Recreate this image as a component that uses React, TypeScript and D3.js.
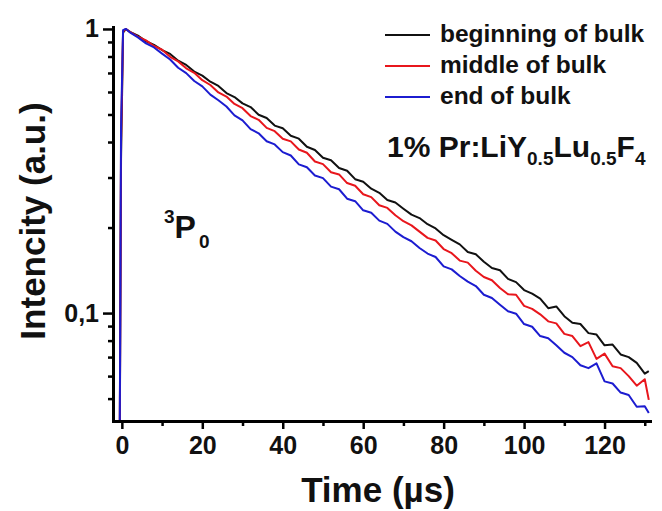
import React, { useEffect, useRef } from 'react';
import * as d3 from 'd3';

// time axis (µs) shared by the three decay curves
const times = [
  -0.6, -0.2, 0.3, 1,
  2, 4, 6, 8, 10, 12, 14, 16, 18, 20, 22, 24, 26, 28, 30, 32, 34, 36, 38, 40,
  42, 44, 46, 48, 50, 52, 54, 56, 58, 60, 62, 64, 66, 68, 70, 72, 74, 76, 78, 80,
  82, 84, 86, 88, 90, 92, 94, 96, 98, 100, 102, 104, 106, 108, 110, 112, 114, 116,
  118, 120, 122, 124, 126, 128, 130, 131,
];

const beginningOfBulk = [
  0.02, 0.35, 0.97, 1.0,
  0.977, 0.947, 0.905, 0.879, 0.843, 0.817, 0.773, 0.747, 0.708, 0.685, 0.652, 0.630,
  0.595, 0.576, 0.547, 0.531, 0.499, 0.486, 0.457, 0.447, 0.421, 0.411, 0.385, 0.375,
  0.352, 0.345, 0.324, 0.317, 0.296, 0.290, 0.274, 0.265, 0.250, 0.245, 0.233, 0.222,
  0.216, 0.2055, 0.1985, 0.188, 0.181, 0.1745, 0.164, 0.161, 0.1515, 0.144, 0.1415,
  0.132, 0.1285, 0.1205, 0.117, 0.1125, 0.104, 0.1055, 0.0975, 0.0925, 0.0915, 0.085,
  0.084, 0.077, 0.0775, 0.0715, 0.07, 0.0668, 0.0612, 0.0625,
];

const middleOfBulk = [
  0.02, 0.4, 0.98, 1.0,
  0.977, 0.94, 0.912, 0.871, 0.845, 0.798, 0.769, 0.727, 0.701, 0.66, 0.635, 0.598,
  0.578, 0.5446, 0.526, 0.4936, 0.4789, 0.4485, 0.4367, 0.4109, 0.4021, 0.3764, 0.3666,
  0.3417, 0.3343, 0.3131, 0.3076, 0.2868, 0.2806, 0.262, 0.256, 0.2395, 0.2345, 0.221,
  0.2105, 0.2035, 0.1935, 0.184, 0.18, 0.168, 0.1625, 0.153, 0.1505, 0.141, 0.134,
  0.1305, 0.1225, 0.1165, 0.116, 0.106, 0.1035, 0.099, 0.0935, 0.092, 0.0845, 0.083,
  0.0765, 0.079, 0.069, 0.072, 0.065, 0.064, 0.06, 0.0555, 0.0585, 0.0495,
];

const endOfBulk = [
  0.02, 0.45, 0.99, 1.0,
  0.973, 0.934, 0.89, 0.861, 0.819, 0.781, 0.73, 0.699, 0.6557, 0.6278, 0.5873, 0.561,
  0.5333, 0.4967, 0.4766, 0.4439, 0.4294, 0.4025, 0.3923, 0.3686, 0.3585, 0.3337, 0.326,
  0.3049, 0.2986, 0.2786, 0.2728, 0.2527, 0.2476, 0.23, 0.2255, 0.2115, 0.206, 0.1935,
  0.185, 0.179, 0.1695, 0.162, 0.1575, 0.146, 0.1425, 0.135, 0.129, 0.1245, 0.116,
  0.113, 0.107, 0.1015, 0.0995, 0.0915, 0.0895, 0.083, 0.0815, 0.077, 0.0725, 0.07,
  0.0655, 0.064, 0.0665, 0.0575, 0.0565, 0.0525, 0.0515, 0.0468, 0.047, 0.0445,
];

const seriesNames = ['beginning of bulk', 'middle of bulk', 'end of bulk'];
const seriesColors = ['#111111', '#e8161c', '#1c1cd0'];

const xMajorTicks = [0, 20, 40, 60, 80, 100, 120];
const xMinorTicks = [10, 30, 50, 70, 90, 110, 130];
const yMajorTicks = [0.1, 1];
const yTickLabels = ['0,1', '1'];
const yMinorTicks = [0.05, 0.06, 0.07, 0.08, 0.09, 0.2, 0.3, 0.4, 0.5, 0.6, 0.7, 0.8, 0.9];

const FONT = '"Liberation Sans", Arial, sans-serif';

export default function App() {
  const svgRef = useRef<SVGSVGElement>(null);

  useEffect(() => {
    const svg = d3.select(svgRef.current);
    svg.selectAll('*').remove();

    const x = d3.scaleLinear().domain([-2.2, 131.3]).range([113, 650]);
    const y = d3.scaleLog().domain([0.0417, 1.016]).range([421, 27]);
    const [x0, x1] = x.range();
    const [yBottom, yTop] = y.range();

    svg.append('rect').attr('width', 662).attr('height', 511).attr('fill', '#fff');

    svg.append('defs').append('clipPath').attr('id', 'plot-clip')
      .append('rect')
      .attr('x', x0).attr('y', yTop)
      .attr('width', x1 - x0).attr('height', yBottom - yTop);

    // curves
    const all = [beginningOfBulk, middleOfBulk, endOfBulk];
    const line = d3.line<number>()
      .x((_, i) => x(times[i]))
      .y(d => y(d));
    const curves = svg.append('g').attr('clip-path', 'url(#plot-clip)');
    all.forEach((vals, k) => {
      curves.append('path')
        .datum(vals)
        .attr('fill', 'none')
        .attr('stroke', seriesColors[k])
        .attr('stroke-width', 2)
        .attr('stroke-linejoin', 'round')
        .attr('d', line);
    });

    // axes
    const styleAxis = (g: any, fontSize = 25) => {
      g.selectAll('.domain').attr('stroke', '#000').attr('stroke-width', 3).attr('stroke-linecap', 'square');
      g.selectAll('.tick line').attr('stroke', '#000').attr('stroke-width', 2.5);
      g.selectAll('.tick text')
        .attr('fill', '#111')
        .style('font-family', FONT)
        .style('font-weight', 'bold')
        .style('font-size', `${fontSize}px`);
    };

    const xMinor = svg.append('g').attr('transform', `translate(0,${yBottom})`)
      .call(d3.axisBottom(x).tickValues(xMinorTicks).tickSize(5).tickSizeOuter(0).tickFormat(() => ''));
    xMinor.select('.domain').remove();
    styleAxis(xMinor);

    const yMinor = svg.append('g').attr('transform', `translate(${x0},0)`)
      .call(d3.axisLeft(y).tickValues(yMinorTicks).tickSize(5).tickSizeOuter(0).tickFormat(() => ''));
    yMinor.select('.domain').remove();
    styleAxis(yMinor);

    const xAxis = svg.append('g').attr('transform', `translate(0,${yBottom})`)
      .call(d3.axisBottom(x).tickValues(xMajorTicks).tickSize(8).tickSizeOuter(0).tickPadding(7));
    styleAxis(xAxis);

    const yAxis = svg.append('g').attr('transform', `translate(${x0},0)`)
      .call(d3.axisLeft(y).tickValues(yMajorTicks).tickSize(10).tickSizeOuter(0).tickPadding(4)
        .tickFormat((d: any) => yTickLabels[yMajorTicks.indexOf(+d)]));
    styleAxis(yAxis);

    // axis titles
    svg.append('text')
      .attr('x', 378).attr('y', 502)
      .attr('text-anchor', 'middle')
      .style('font-family', FONT).style('font-weight', 'bold').style('font-size', '35px')
      .attr('fill', '#111')
      .text('Time (µs)');

    svg.append('text')
      .attr('transform', 'translate(45,221) rotate(-90)')
      .attr('text-anchor', 'middle')
      .style('font-family', FONT).style('font-weight', 'bold').style('font-size', '35px')
      .attr('fill', '#111')
      .text('Intencity (a.u.)');

    // legend
    const legendBaselines = [42, 73, 104];
    seriesNames.forEach((name, k) => {
      const by = legendBaselines[k];
      svg.append('line')
        .attr('x1', 385).attr('x2', 430)
        .attr('y1', by - 7).attr('y2', by - 7)
        .attr('stroke', seriesColors[k]).attr('stroke-width', 2);
      svg.append('text')
        .attr('x', 440).attr('y', by)
        .style('font-family', FONT).style('font-weight', 'bold').style('font-size', '24.5px')
        .attr('fill', '#111')
        .text(name);
    });

    // sample label
    const sample = svg.append('text')
      .attr('x', 387).attr('y', 157)
      .style('font-family', FONT).style('font-weight', 'bold').style('font-size', '30px')
      .attr('fill', '#111');
    sample.append('tspan').text('1% Pr:LiY');
    sample.append('tspan').attr('dy', 8).style('font-size', '19px').text('0.5');
    sample.append('tspan').attr('dy', -8).text('Lu');
    sample.append('tspan').attr('dy', 8).style('font-size', '19px').text('0.5');
    sample.append('tspan').attr('dy', -8).text('F');
    sample.append('tspan').attr('dy', 8).style('font-size', '19px').text('4');

    // level label
    const level = svg.append('text')
      .attr('x', 164).attr('y', 238)
      .style('font-family', FONT).style('font-weight', 'bold').style('font-size', '32px')
      .attr('fill', '#111');
    level.append('tspan').attr('dy', -15).style('font-size', '19px').text('3');
    level.append('tspan').attr('dy', 15).text('P');
    level.append('tspan').attr('dx', 3).attr('dy', 10).style('font-size', '19px').text('0');
  }, []);

  return (
    <svg
      ref={svgRef}
      width={662}
      height={511}
      style={{ position: 'absolute', left: 0, top: 0 }}
    />
  );
}
